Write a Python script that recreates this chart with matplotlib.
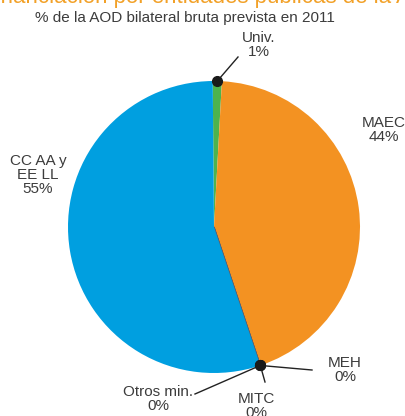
import matplotlib
matplotlib.use("Agg")
import numpy as np
import matplotlib.pyplot as plt

# Distribución de la AOD bilateral bruta prevista en 2011 (%)
entidades = ["Univ.", "MAEC", "MEH", "MITC", "Otros min.", "CC AA y\nEE LL"]
porcentajes = [1, 44, 0, 0, 0, 55]
colores = ["#4db34d", "#f39222", "#5a5a6e", "#5a5a6e", "#5a5a6e", "#009fe0"]

titulo = "Financiación por entidades públicas de la AOD"
subtitulo = "% de la AOD bilateral bruta prevista en 2011"

texto = "#3c3c3c"
plt.rcParams["font.family"] = ["Liberation Sans", "DejaVu Sans"]

fig = plt.figure(figsize=(4.05, 4.16), dpi=100)
ax = fig.add_axes([0, 0, 1, 1])

cx, cy, r = 214, 189, 146
wedges, _ = ax.pie(porcentajes, colors=colores, startangle=90.5, counterclock=False,
                   center=(cx, cy), radius=r, frame=True,
                   wedgeprops=dict(linewidth=0))
# las partidas a 0% se marcan con una línea fina
for w, v in zip(wedges, porcentajes):
    if v == 0:
        w.set_edgecolor("#5a5a6e")
        w.set_linewidth(0.8)
ax.set_xlim(0, 405)
ax.set_ylim(0, 416)
ax.set_aspect("equal")
ax.axis("off")


def borde(i):
    w = wedges[i]
    ang = np.deg2rad((w.theta1 + w.theta2) / 2)
    return cx + r * np.cos(ang), cy + r * np.sin(ang)


# etiquetas directas
ax.text(384, 286, f"{entidades[1]}\n{porcentajes[1]}%", ha="center", va="center",
        fontsize=11, color=texto, linespacing=1.0)
ax.text(38, 241, f"{entidades[5]}\n{porcentajes[5]}%", ha="center", va="center",
        fontsize=11, color=texto, linespacing=1.0)

# etiquetas con línea guía: (índice, punto final de la línea, posición del texto)
guias = [
    (0, (238, 359), (259, 371)),
    (2, (312, 46), (345, 46)),
    (3, (265, 34), (256, 10)),
    (4, (195, 22), (158, 17)),
]
for i, fin, pos in guias:
    x0, y0 = borde(i)
    ax.plot([x0, fin[0]], [y0, fin[1]], color="#222222", lw=1.0, zorder=4)
    ax.plot(x0, y0, "o", color="#1a1a1a", ms=7, zorder=5)
    ax.text(pos[0], pos[1], f"{entidades[i]}\n{porcentajes[i]}%", ha="center", va="center",
            fontsize=11, color=texto, linespacing=1.0)

ax.text(-18, 413, titulo, ha="left", va="baseline", fontsize=16, color="#f2a128")
ax.text(185, 398, subtitulo, ha="center", va="center", fontsize=11, color=texto)

fig.savefig("out.png", dpi=100)
